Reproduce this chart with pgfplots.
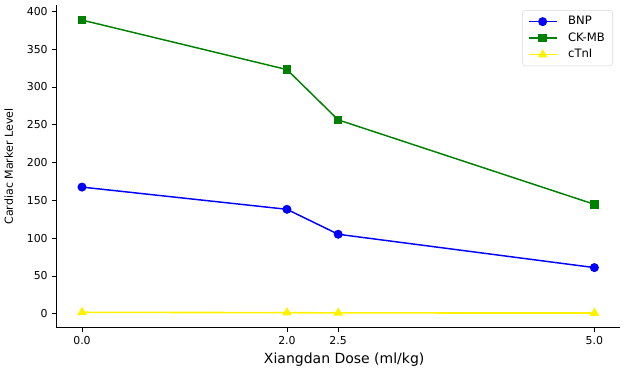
\documentclass[border=0pt]{standalone}
\usepackage{pgfplots}
\pgfplotsset{compat=1.18}
\usepackage{fontspec}
\setmainfont{DejaVu Sans}
\begin{document}
\begin{tikzpicture}
\begin{axis}[
  at={(0,0)}, anchor=south west,
  scale only axis,
  width=423pt, height=242pt,
  xmin=-0.25, xmax=5.25,
  ymin=-18.5, ymax=408,
  axis lines*=left,
  axis line style={line width=0.6pt},
  xtick={0,2,2.5,5},
  xticklabels={0.0,2.0,2.5,5.0},
  ytick={0,50,...,400},
  tick align=outside,
  major tick length=3pt,
  tick style={black, line width=0.6pt},
  ticklabel style={font=\fontsize{8.2}{9}\selectfont},
  /pgf/number format/assume math mode=true,
  xlabel={Xiangdan Dose (ml/kg)},
  ylabel={Cardiac Marker Level},
  xlabel style={font=\fontsize{10.5}{11}\selectfont, yshift=1pt, xshift=4.5pt},
  ylabel style={font=\fontsize{8.3}{9}\selectfont, yshift=3.5pt},
  legend style={at={(0.9876,0.985)}, anchor=north east, font=\fontsize{8.7}{10}\selectfont,
    draw=black!15, rounded corners=2pt, row sep=0.5pt, inner xsep=4pt, inner ysep=2.5pt},
  legend cell align=left,
  legend image code/.code={\draw[mark repeat=2,mark phase=2] plot coordinates {(0cm,0cm) (0.37cm,0cm) (0.74cm,0cm)};
    \path (0.95cm,0cm);},
]
\addplot[blue, line width=1.1pt, mark=*, mark size=2.8pt] coordinates {(0,167.6) (2,138.2) (2.5,105.2) (5,61.1)};
\addlegendentry{BNP}
\addplot[green!50!black, line width=1.1pt, mark=square*, mark size=2.6pt] coordinates {(0,388.5) (2,323) (2.5,256.5) (5,144.8)};
\addlegendentry{CK-MB}
\addplot[yellow, line width=1.2pt, mark=triangle*, mark size=3pt] coordinates {(0,2) (2,1.5) (2.5,1.2) (5,1)};
\addlegendentry{cTnI}
\end{axis}
\path[use as bounding box] (-42pt,-27.75pt) rectangle (426pt,246pt);
\end{tikzpicture}
\end{document}
